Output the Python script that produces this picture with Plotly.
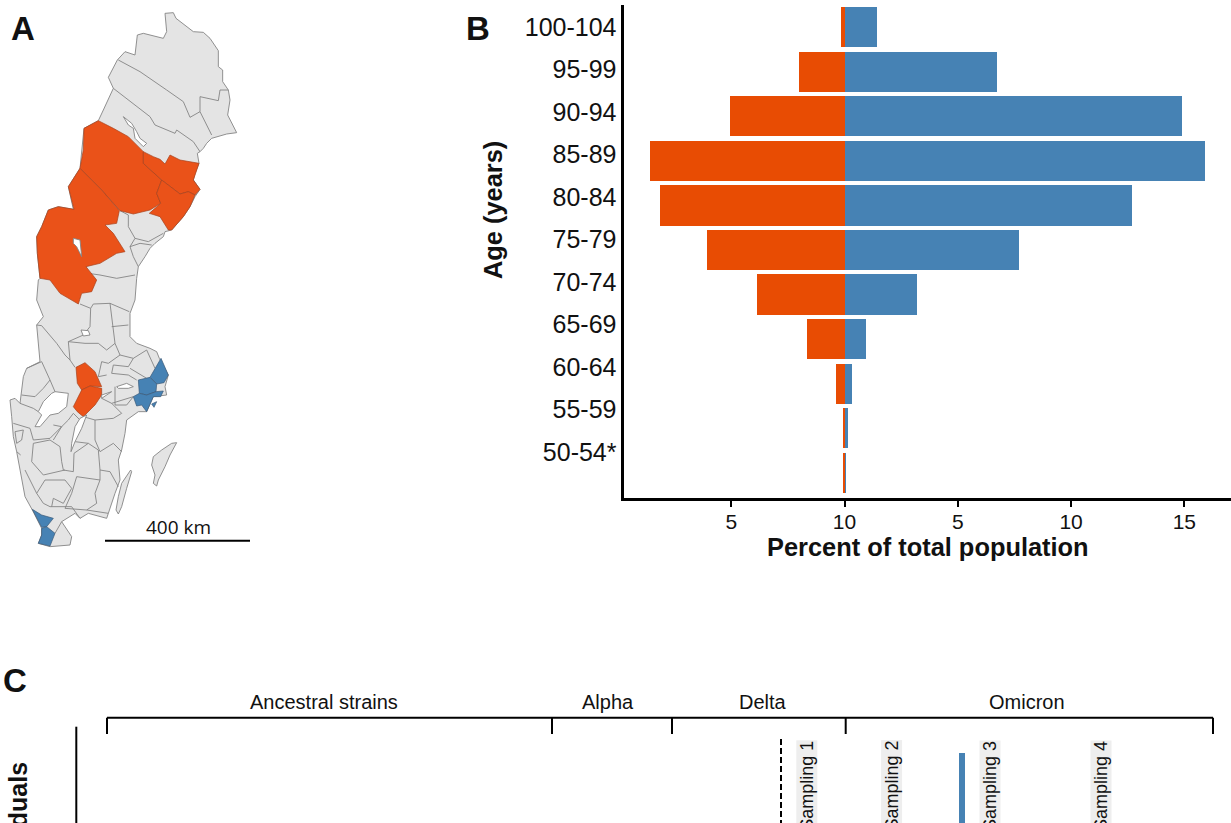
import plotly.graph_objects as go

# ---------- panel B data ----------
age_groups = ["50-54*", "55-59", "60-64", "65-69", "70-74", "75-79", "80-84", "85-89", "90-94", "95-99", "100-104"]
orange_pct = [-0.11, -0.11, -0.39, -1.69, -3.9, -6.1, -8.18, -8.6, -5.1, -2.02, -0.2]
blue_pct = [0.04, 0.11, 0.30, 0.91, 3.19, 7.68, 12.68, 15.87, 14.87, 6.69, 1.39]
x_tick_vals = [-5, 0, 5, 10, 15]
x_tick_text = ["5", "10", "5", "10", "15"]
age_label_pos = [0.465 + 0.9542 * i for i in range(11)]

# ---------- panel C data ----------
variant_names = ["Ancestral strains", "Alpha", "Delta", "Omicron"]
variant_label_x = [323.6, 608, 763, 1027]
variant_edges = [107, 552, 672, 845.7, 1213]
sampling_names = ["Sampling 1", "Sampling 2", "Sampling 3", "Sampling 4"]
sampling_x = [806.8, 891.6, 990, 1101]

# ---------- panel A map outlines (zoom frames) ----------
sweden = [("n",[(495,40),(520,38),(528,55),(555,75),(580,95),(610,97),(630,115),(655,152),(655,200),(668,210),(668,245),(685,270),(690,300),(683,345),(695,370),(710,398),(680,402),(650,410),(635,415),(620,430),(610,445),(600,455),(592,460),(597,490),(585,520),(580,540),(600,568),(585,590),(570,620),(550,650),(515,690),(495,695),(490,710),(465,730),(450,745),(435,770),(415,800),(410,835)]),
          ("s",[(405,60),(390,100),(390,170),(410,190),(450,205),(470,215),(478,235),(505,285),(495,320),(500,345),(460,350),(440,395),(415,395),(380,420),(375,460),(365,510),(355,540),(360,600),(345,640),(325,700),(320,715),(265,700),(240,715),(225,700),(195,720),(185,725),(215,770),(210,795),(150,800),(115,790),(125,765),(125,745),(97,690),(75,650),(50,515),(40,470),(35,410),(30,360),(45,355),(60,370),(70,290),(80,265),(120,245),(110,135),(130,110),(110,60),(115,0)]),
          ("n",[(120,835),(112,760),(110,710),(125,680),(145,630),(175,620),(220,628),(205,560),(240,505),(252,385),(295,362),(310,330),(340,265),(325,232),(352,180),(375,155),(405,165),(412,105),(430,100),(490,115),(500,95),(495,40)])]
gotland = [("s",[(515,490),(530,488),(510,525),(495,560),(475,600),(470,618),(460,610),(465,585),(455,555),(460,530),(485,510),(515,490)])]
oland = [("s",[(392,570),(395,575),(380,625),(365,680),(355,702),(348,690),(355,650),(365,610),(392,570)])]

orange_regions = [
    [("n",[(295,362),(252,385),(250,450),(240,505),(305,570),(360,632),(400,642),(450,630),(482,610),(470,580),(485,540),(430,490),(430,455),(385,410),(340,385),(295,362)])],
    [("n",[(430,455),(430,490),(485,540),(540,582),(565,575),(585,585),(600,568),(580,540),(597,490),(540,480),(510,465),(495,492),(480,478),(460,470),(430,455)])],
    [("n",[(485,540),(470,580),(482,610),(448,640),(480,650),(505,690),(515,690),(550,650),(570,620),(585,585),(565,575),(540,582),(485,540)])],
    [("n",[(240,505),(205,560),(222,628),(175,620),(145,630),(125,680),(110,710),(112,760),(120,835)]),("s",[(150,0),(180,40),(235,72),(245,40),(275,35),(290,0)]),("n",[(258,800),(300,790),(350,760),(375,755),(340,700),(315,675),(350,670),(358,632),(305,570),(240,505)])],
    [("s",[(228,262),(255,248),(285,275),(305,320),(270,318),(245,330),(232,310),(228,262)])],
    [("s",[(245,330),(270,318),(305,325),(305,345),(285,375),(250,410),(232,395),(220,380),(240,340),(245,330)])],
]
blue_regions = [
    [("s",[(483,235),(505,285),(492,308),(470,312),(450,292),(465,265),(483,235)])],
    [("s",[(415,300),(450,292),(470,312),(468,335),(440,345),(418,340),(415,300)])],
    [("s",[(400,350),(418,340),(440,345),(468,335),(490,333),(482,350),(460,350),(440,395),(425,375),(410,378),(400,350)])],
    [("s",[(455,372),(470,365),(462,382),(455,372)])],
    [("s",[(97,688),(125,705),(160,715),(140,740),(125,742),(110,715),(97,688)])],
    [("s",[(125,745),(140,740),(165,760),(150,798),(115,790),(125,765),(125,745)])],
]
lakes = [
    [("n",[(220,715),(240,720),(245,770),(230,740),(220,730),(220,715)])],
    [("n",[(370,350),(395,370),(410,395),(420,415),(440,430),(430,440),(405,415),(400,385),(385,375),(370,350)])],
    [("s",[(130,365),(155,340),(165,335),(205,340),(200,380),(175,400),(150,405),(120,440),(105,440),(125,405),(115,395),(130,365)])],
    [("s",[(260,405),(245,445),(225,485),(213,515),(215,490),(225,440),(240,415),(260,405)])],
    [("s",[(350,320),(380,310),(400,320),(385,325),(355,325),(350,320)])],
    [("s",[(305,345),(335,335),(305,355),(305,345)])],
    [("s",[(243,150),(265,152),(270,165),(250,168),(243,150)])],
]
county_lines = [
    ("n",[(355,180),(420,215),(500,270),(550,305),(570,352),(600,335),(600,290),(655,302),(660,270),(685,270)]),
    ("n",[(600,335),(635,405)]),
    ("n",[(340,265),(400,310),(450,350),(465,375),(525,400),(530,390),(580,425),(600,455)]),
    ("n",[(360,632),(385,645),(385,680),(405,715),(445,725),(490,700)]),
    ("n",[(405,715),(390,740),(400,770),(415,800)]),
    ("n",[(390,740),(420,730),(455,735)]),
    ("n",[(258,800),(265,820),(300,825),(350,835),(405,825)]),
    ("s",[(110,135),(125,137),(170,190),(195,225),(210,240),(205,185),(250,165),(270,140),(272,85),(240,72)]),
    ("s",[(272,85),(280,72),(330,70),(388,95)]),
    ("s",[(335,140),(385,135)]),
    ("s",[(330,70),(340,140),(345,190),(320,210),(295,190),(255,190),(205,185)]),
    ("s",[(345,190),(360,225),(325,250),(305,245),(295,290),(320,285)]),
    ("s",[(360,225),(400,235),(385,260),(340,255),(335,280),(385,285),(410,300)]),
    ("s",[(400,235),(440,210),(465,265)]),
    ("s",[(390,265),(440,295)]),
    ("s",[(80,265),(125,245),(150,300),(130,325),(105,350),(65,345)]),
    ("s",[(210,240),(225,262)]),
    ("s",[(150,300),(165,335)]),
    ("s",[(60,370),(100,385),(115,395)]),
    ("s",[(40,430),(90,445),(100,480),(150,475),(185,440),(205,420),(220,400)]),
    ("s",[(95,545),(100,490),(150,480),(180,500),(185,545),(190,570),(220,575),(222,520)]),
    ("s",[(95,545),(130,585),(195,570)]),
    ("s",[(222,520),(265,490),(295,510),(300,570),(330,575),(345,600),(355,620)]),
    ("s",[(225,485),(265,490)]),
    ("s",[(285,420),(285,480),(300,515),(340,490),(365,515)]),
    ("s",[(335,370),(365,400),(340,415),(285,420),(250,410)]),
    ("s",[(300,570),(300,600),(230,590),(215,640),(195,685),(260,690),(325,700)]),
    ("s",[(300,600),(285,640),(290,670),(260,690)]),
    ("s",[(110,640),(135,600),(195,600),(215,625),(190,670),(160,655),(155,680)]),
    ("s",[(75,570),(110,640),(130,670),(150,680),(215,680),(240,715)]),
    ("s",[(305,355),(335,370),(400,350)]),
    ("s",[(345,320),(345,375)]),
    ("s",[(185,725),(165,760)]),
    ("s",[(45,455),(70,450),(65,480),(50,490),(45,455)]),
    ("s",[(50,515),(62,525)]),
    ("s",[(345,375),(380,375),(400,350)]),
    ("s",[(160,435),(185,440),(160,480)]),
    ("s",[(220,400),(240,420)]),
]

scale_label = "400 km"
scale_bar_x = [105, 250]
scale_bar_y = [540.7, 540.7]

ORANGE_BAR = "#E84C03"
BLUE = "#4682B4"
MAP_ORANGE = "#EA5219"
MAP_GREY = "#E4E4E4"
MAP_EDGE = "#858585"
SANS = "Liberation Sans"

W, H = 1231, 823


def to_xy(parts):
    xs, ys = [], []
    for frame, pts in parts:
        for x, y in pts:
            xs.append(x / 3)
            ys.append(y / 3 + (280 if frame == "s" else 0))
    return xs, ys


fig = go.Figure()


def poly(parts, fill, edge=MAP_EDGE, width=0.9):
    xs, ys = to_xy(parts)
    fig.add_trace(go.Scatter(x=xs, y=ys, mode="lines", fill="toself", fillcolor=fill,
                             line=dict(color=edge, width=width), xaxis="x2", yaxis="y2",
                             hoverinfo="skip", showlegend=False))


# bars
fig.add_trace(go.Bar(y=list(range(11)), x=orange_pct, orientation="h", marker=dict(color=ORANGE_BAR, line=dict(width=0)),
                     width=0.903, showlegend=False))
fig.add_trace(go.Bar(y=list(range(11)), x=blue_pct, orientation="h", marker=dict(color=BLUE, line=dict(width=0)),
                     width=0.903, showlegend=False))

# map
poly(sweden, MAP_GREY)
poly(gotland, MAP_GREY)
poly(oland, MAP_GREY)
for ln in county_lines:
    xs, ys = to_xy([ln])
    fig.add_trace(go.Scatter(x=xs, y=ys, mode="lines", line=dict(color=MAP_EDGE, width=0.9), xaxis="x2", yaxis="y2",
                             hoverinfo="skip", showlegend=False))
for r in orange_regions:
    poly(r, MAP_ORANGE, "#A8421C", 0.7)
for r in blue_regions:
    poly(r, BLUE, "#3C5A78", 0.7)
for r in lakes:
    poly(r, "white")
fig.add_trace(go.Scatter(x=scale_bar_x, y=scale_bar_y, mode="lines", line=dict(color="black", width=2),
                         xaxis="x2", yaxis="y2", hoverinfo="skip", showlegend=False))

# panel C
BR_Y, BR_TICK = 717.7, 734
fig.add_trace(go.Scatter(x=[variant_edges[0], variant_edges[-1]], y=[BR_Y, BR_Y], mode="lines",
                         line=dict(color="black", width=2), xaxis="x2", yaxis="y2", hoverinfo="skip", showlegend=False))
for e in variant_edges:
    fig.add_trace(go.Scatter(x=[e, e], y=[BR_Y, BR_TICK], mode="lines", line=dict(color="black", width=2),
                             xaxis="x2", yaxis="y2", hoverinfo="skip", showlegend=False))
fig.add_trace(go.Scatter(x=[76.3, 76.3], y=[726.7, 823], mode="lines", line=dict(color="black", width=2),
                         xaxis="x2", yaxis="y2", hoverinfo="skip", showlegend=False))
fig.add_trace(go.Scatter(x=[781, 781], y=[739, 823], mode="lines", line=dict(color="black", width=2, dash="6px,3px"),
                         xaxis="x2", yaxis="y2", hoverinfo="skip", showlegend=False))
fig.add_trace(go.Scatter(x=[962, 962], y=[753, 823], mode="lines", line=dict(color=BLUE, width=6),
                         xaxis="x2", yaxis="y2", hoverinfo="skip", showlegend=False))


def note(text, x, y, size, bold=False, family=SANS, **kw):
    fig.add_annotation(x=x, y=y, xref="x2", yref="y2", text=f"<b>{text}</b>" if bold else text, showarrow=False,
                       font=dict(family=family, size=size, color="#111111"), **kw)


note("A", 22.5, 28, 33, True)
note("B", 477.5, 28, 33, True)
note("C", 15, 680, 33, True)
note(scale_label, 178.7, 526.7, 19, family="Open Sans")
note("Percent of total population", 927.6, 547, 25.4, True)
note("Age (years)", 493, 210, 25.4, True, textangle=-90)
for name, x in zip(variant_names, variant_label_x):
    note(name, x, 702, 20)
note("Individuals", 17, 760, 25, True, textangle=-90, yanchor="top")
for name, x in zip(sampling_names, sampling_x):
    note(name, x, 740, 18, textangle=-90, yanchor="top", bgcolor="#EEEEEE", borderpad=0)

fig.update_layout(
    width=W, height=H, margin=dict(l=0, r=0, t=0, b=0), paper_bgcolor="white", plot_bgcolor="rgba(0,0,0,0)",
    barmode="overlay", bargap=0, showlegend=False,
    xaxis=dict(domain=[623.5 / W, 1], range=[-9.757, 17.06], tickvals=x_tick_vals, ticktext=x_tick_text,
               showgrid=False, zeroline=False, showline=True, linecolor="black", linewidth=3,
               ticks="outside", ticklen=6, tickwidth=2, tickcolor="black", ticklabelstandoff=-3,
               tickfont=dict(family=SANS, size=21, color="#111111"), anchor="y"),
    yaxis=dict(domain=[(H - 498) / H, (H - 5) / H], range=[-0.568, 10.5], tickvals=age_label_pos, ticktext=age_groups,
               showgrid=False, zeroline=False, showline=True, linecolor="black", linewidth=3, ticks="",
               ticklabelstandoff=-1,
               tickfont=dict(family=SANS, size=25, color="#111111"), anchor="x"),
    xaxis2=dict(domain=[0, 1], range=[0, W], visible=False, anchor="y2"),
    yaxis2=dict(domain=[0, 1], range=[H, 0], visible=False, anchor="x2"),
)

fig.write_html("out.html", config={"displayModeBar": False},
               post_script="document.body.style.margin='0';document.body.style.overflow='hidden';")
